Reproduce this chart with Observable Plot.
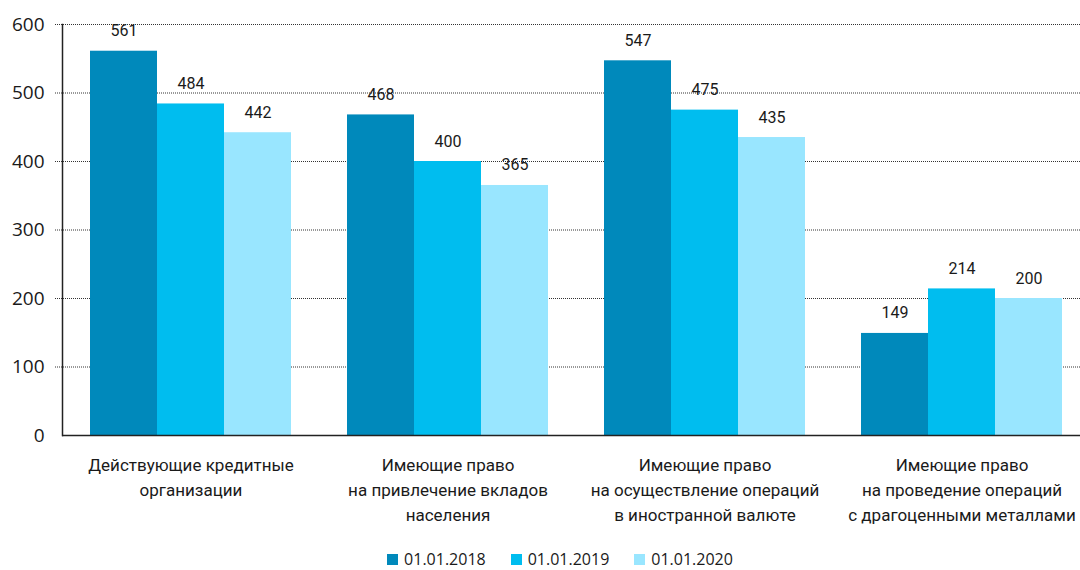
<!DOCTYPE html>
<html><head><meta charset="utf-8">
<script src="https://cdn.jsdelivr.net/npm/d3@7"></script>
<script src="https://cdn.jsdelivr.net/npm/@observablehq/plot@0.6"></script>
<style>
body{margin:0;background:#fff;font-family:Roboto, sans-serif;color:#1a1a1a;width:1080px;height:570px;overflow:hidden;}
#chart{position:relative;width:1080px;height:540px;}
#chart svg{display:block;position:absolute;left:0;top:0;overflow:visible;}
#legend{display:flex;justify-content:center;align-items:center;gap:25px;font-family:"Open Sans", sans-serif;font-size:16px;line-height:20px;height:22px;margin-top:8px;margin-left:40px;color:#1a1a1a;}
#legend .item{display:flex;align-items:center;gap:6px;}
#legend .sw{width:11px;height:11px;display:inline-block;}
</style></head><body><div id="chart"></div><div id="legend"></div>
<script>
const categories = [
  "Действующие кредитные\nорганизации",
  "Имеющие право\nна привлечение вкладов\nнаселения",
  "Имеющие право\nна осуществление операций\nв иностранной валюте",
  "Имеющие право\nна проведение операций\nс драгоценными металлами"
];
const seriesNames = ["01.01.2018", "01.01.2019", "01.01.2020"];
const values2018 = [561, 468, 547, 149];
const values2019 = [484, 400, 475, 214];
const values2020 = [442, 365, 435, 200];
const colors = ["#0089bb", "#00bdef", "#99e6ff"];
const yTicks = [0, 100, 200, 300, 400, 500, 600];

const seriesValues = [values2018, values2019, values2020];
const data = [];
categories.forEach((c, i) => {
  seriesValues.forEach((vals, j) => data.push({category: c, series: seriesNames[j], value: vals[i]}));
});

const common = {
  width: 1080, height: 540,
  marginLeft: 62, marginRight: 0, marginTop: 24, marginBottom: 105
};

// background: grid and y axis labels
const back = Plot.plot({
  ...common,
  style: {fontFamily: "Roboto, sans-serif", fontSize: "16px", fontWeight: 400, color: "#1a1a1a", background: "#fff"},
  y: {domain: [0, 600], ticks: yTicks, label: null},
  marks: [
    Plot.ruleY(yTicks.filter(d => d > 0), {stroke: "#333", strokeDasharray: "1,1", insetLeft: -7}),
    Plot.axisY({ticks: yTicks, tickSize: 0, tickPadding: 18, fontSize: 19, fontFamily: "Open Sans", label: null, fill: "#1a1a1a"})
  ]
});

// foreground: bars, value labels, category axis
const front = Plot.plot({
  ...common,
  style: {fontFamily: "Roboto, sans-serif", fontSize: "16px", fontWeight: 400, color: "#1a1a1a", background: "transparent"},
  fx: {domain: categories, range: [62, 1091], paddingInner: 0.21, paddingOuter: 0.105, label: null},
  x: {domain: seriesNames, padding: 0, axis: null},
  y: {domain: [0, 600], axis: null},
  color: {domain: seriesNames, range: colors},
  marks: [
    Plot.barY(data, {fx: "category", x: "series", y: "value", fill: "series"}),
    Plot.text(data, {fx: "category", x: "series", y: "value", text: d => String(d.value), lineAnchor: "bottom", dy: -15, fontSize: 16, fill: "#1a1a1a"}),
    Plot.axisFx({anchor: "bottom", tickSize: 0, tickPadding: 18, lineHeight: 1.47, fontSize: 17, label: null, fill: "#1a1a1a"})
  ]
});

// top: axis lines drawn over bars
const lines = Plot.plot({
  ...common,
  style: {background: "transparent"},
  y: {domain: [0, 600], axis: null},
  marks: [
    Plot.frame({anchor: "left", stroke: "#222", strokeWidth: 1.5}),
    Plot.ruleY([0], {stroke: "#222", strokeWidth: 1.5})
  ]
});

const el = document.getElementById("chart");
el.appendChild(back);
el.appendChild(front);
el.appendChild(lines);

const legend = document.getElementById("legend");
seriesNames.forEach((s, i) => {
  const item = document.createElement("span");
  item.className = "item";
  const sw = document.createElement("span");
  sw.className = "sw";
  sw.style.background = colors[i];
  const t = document.createElement("span");
  t.textContent = s;
  item.appendChild(sw); item.appendChild(t);
  legend.appendChild(item);
});
</script></body></html>
